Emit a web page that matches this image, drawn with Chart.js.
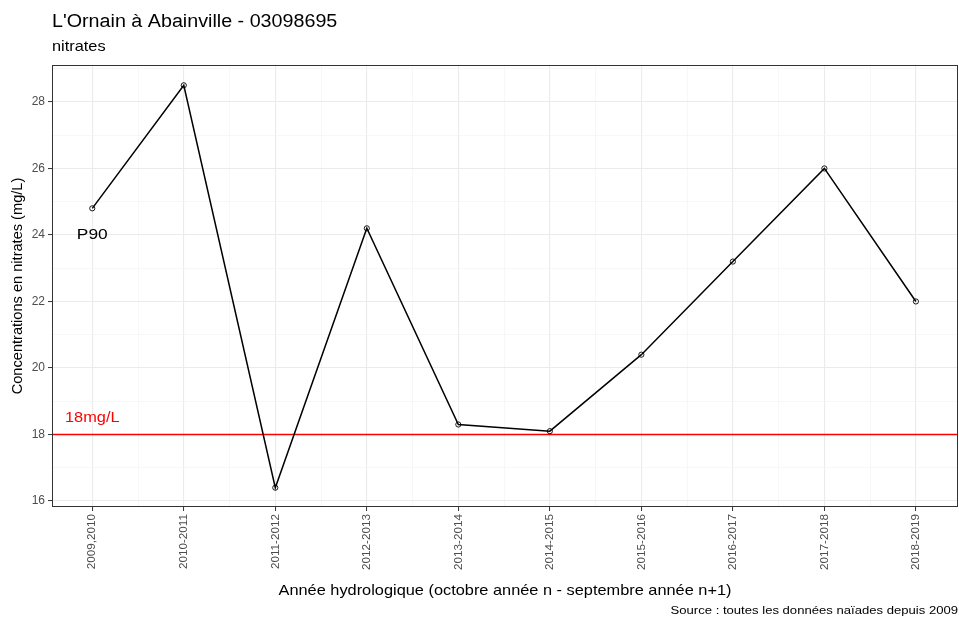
<!DOCTYPE html>
<html lang="fr">
<head>
<meta charset="utf-8">
<title>L'Ornain à Abainville - 03098695</title>
<script src="https://cdn.jsdelivr.net/npm/chart.js@4.4.1/dist/chart.umd.min.js"></script>
<style>
  html, body { margin: 0; padding: 0; background: #ffffff; }
  canvas { display: block; }
</style>
</head>
<body>
<canvas id="chart" width="959" height="619"></canvas>
<script>
// Hydrological years and the P90 nitrate concentration for each (mg/L)
const categories = ["2009,2010", "2010-2011", "2011-2012", "2012-2013", "2013-2014",
                    "2014-2015", "2015-2016", "2016-2017", "2017-2018", "2018-2019"];
const p90Values = [24.8, 28.5, 16.4, 24.2, 18.3, 18.1, 20.4, 23.2, 26.0, 22.0];
const threshold = 18;
const thresholdLabel = "18mg/L";
const seriesLabel = "P90";
const yTickValues = [16, 17, 18, 19, 20, 21, 22, 23, 24, 25, 26, 27, 28, 29];
const xTickValues = [0, 0.5, 1, 1.5, 2, 2.5, 3, 3.5, 4, 4.5, 5, 5.5, 6, 6.5, 7, 7.5, 8, 8.5, 9];

const titleText = "L'Ornain à Abainville - 03098695";
const subtitleText = "nitrates";
const yTitle = "Concentrations en nitrates (mg/L)";
const xTitle = "Année hydrologique (octobre année n - septembre année n+1)";
const captionText = "Source : toutes les données naïades depuis 2009";

const FONT = "'Liberation Sans', Arial, Helvetica, sans-serif";
Chart.defaults.font.family = FONT;

// horizontal text is set slightly wide
const TEXT_STRETCH = 1.12;
const TICK_LEN = 4;

const isMajorY = v => v % 2 === 0;
const isMajorX = v => Number.isInteger(v);
const GRID = "#EBEBEB";
const GRID_MINOR = "#F2F2F2";

function wideText(c, text, x, y, align) {
  const w = c.measureText(text).width * TEXT_STRETCH;
  let left = x;
  if (align === "center") left = x - w / 2;
  else if (align === "right") left = x - w;
  c.save();
  c.textAlign = "left";
  c.translate(left, y);
  c.scale(TEXT_STRETCH, 1);
  c.fillText(text, 0, 0);
  c.restore();
}

// Titles, category labels, annotations, threshold line and panel border
const decorations = {
  id: "decorations",
  beforeDraw(chart) {
    const c = chart.ctx;
    c.save();
    c.fillStyle = "#ffffff";
    c.fillRect(0, 0, chart.width, chart.height);
    c.restore();
  },
  beforeDatasetsDraw(chart) {
    const c = chart.ctx;
    const a = chart.chartArea;
    const y = chart.scales.y.getPixelForValue(threshold);
    c.save();
    c.strokeStyle = "#FF0000";
    c.lineWidth = 1.4;
    c.beginPath();
    c.moveTo(a.left, y);
    c.lineTo(a.right, y);
    c.stroke();
    c.restore();
  },
  afterDatasetsDraw(chart) {
    const c = chart.ctx;
    const a = chart.chartArea;
    const xs = chart.scales.x, ys = chart.scales.y;
    c.save();
    // panel border
    c.strokeStyle = "#333333";
    c.lineWidth = 1;
    c.strokeRect(a.left + 0.5, a.top + 0.5, a.right - a.left - 1, a.bottom - a.top - 1);

    // category labels, vertical, reading upwards
    c.fillStyle = "#4D4D4D";
    c.font = "11.7px " + FONT;
    c.textAlign = "right";
    c.textBaseline = "middle";
    categories.forEach((label, i) => {
      c.save();
      c.translate(xs.getPixelForValue(i), a.bottom + TICK_LEN + 3);
      c.rotate(-Math.PI / 2);
      c.fillText(label, 0, 0);
      c.restore();
    });

    // in-plot labels
    c.fillStyle = "#000000";
    c.font = "15.5px " + FONT;
    wideText(c, seriesLabel, xs.getPixelForValue(0), ys.getPixelForValue(24), "center");
    c.fillStyle = "#FF0000";
    c.font = "14.6px " + FONT;
    wideText(c, thresholdLabel, xs.getPixelForValue(0), ys.getPixelForValue(threshold + 0.5), "center");

    // title and subtitle
    c.fillStyle = "#000000";
    c.font = "17.6px " + FONT;
    wideText(c, titleText, a.left, 22, "left");
    c.font = "14.6px " + FONT;
    wideText(c, subtitleText, a.left, 47, "left");

    // axis titles
    c.font = "14.6px " + FONT;
    wideText(c, xTitle, (a.left + a.right) / 2, 591, "center");
    c.save();
    c.textAlign = "center";
    c.translate(18, (a.top + a.bottom) / 2);
    c.rotate(-Math.PI / 2);
    c.fillText(yTitle, 0, 0);
    c.restore();

    // caption
    c.font = "11.7px " + FONT;
    wideText(c, captionText, a.right, 611, "right");
    c.restore();
  }
};

new Chart(document.getElementById("chart"), {
  type: "line",
  data: {
    datasets: [{
      label: seriesLabel,
      data: categories.map((c, i) => ({ x: i, y: p90Values[i] })),
      borderColor: "#000000",
      borderWidth: 1.5,
      pointRadius: 2.6,
      pointBorderWidth: 0.9,
      pointBorderColor: "#000000",
      pointBackgroundColor: "rgba(255,255,255,0)",
      tension: 0,
      fill: false
    }]
  },
  options: {
    responsive: false,
    devicePixelRatio: 1,
    animation: false,
    layout: { autoPadding: false, padding: { top: 65, right: 1, left: 0, bottom: 0 } },
    plugins: {
      legend: { display: false },
      tooltip: { enabled: false },
      title: { display: false }
    },
    scales: {
      x: {
        type: "linear",
        min: -0.44,
        max: 9.46,
        afterBuildTicks: s => { s.ticks = xTickValues.map(v => ({ value: v })); },
        afterFit: s => { s.height = 112; },
        ticks: { display: false },
        grid: {
          color: ctx => isMajorX(ctx.tick.value) ? GRID : GRID_MINOR,
          lineWidth: ctx => isMajorX(ctx.tick.value) ? 1.1 : 0.6,
          tickColor: ctx => isMajorX(ctx.tick.value) ? "#333333" : "rgba(0,0,0,0)",
          tickLength: TICK_LEN,
          tickWidth: 1
        },
        border: { display: false }
      },
      y: {
        type: "linear",
        min: 15.82,
        max: 29.11,
        afterBuildTicks: s => { s.ticks = yTickValues.map(v => ({ value: v })); },
        afterFit: s => { s.width = 52; },
        ticks: {
          padding: 3,
          color: "#4D4D4D",
          font: { size: 12 },
          callback: v => isMajorY(v) ? String(v) : ""
        },
        grid: {
          color: ctx => isMajorY(ctx.tick.value) ? GRID : GRID_MINOR,
          lineWidth: ctx => isMajorY(ctx.tick.value) ? 1.1 : 0.6,
          tickColor: ctx => isMajorY(ctx.tick.value) ? "#333333" : "rgba(0,0,0,0)",
          tickLength: TICK_LEN,
          tickWidth: 1
        },
        border: { display: false }
      }
    }
  },
  plugins: [decorations]
});
</script>
</body>
</html>
